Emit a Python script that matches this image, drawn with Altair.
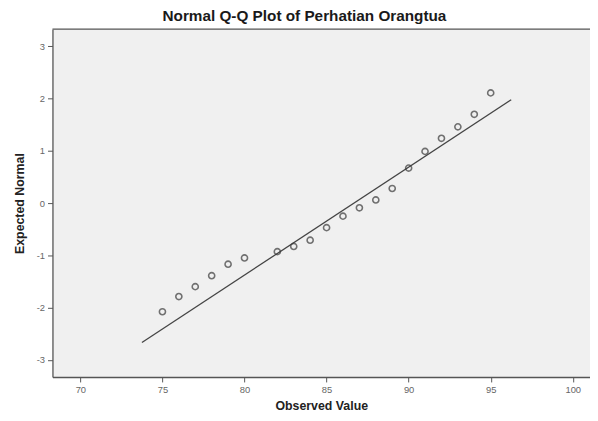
import altair as alt
import pandas as pd

observed = [75, 76, 77, 78, 79, 80, 82, 83, 84, 85, 86, 87, 88, 89, 90, 91, 92, 93, 94, 95]
expected = [-2.08, -1.79, -1.60, -1.39, -1.17, -1.05, -0.93, -0.83, -0.71, -0.47,
            -0.25, -0.09, 0.06, 0.28, 0.67, 0.99, 1.24, 1.46, 1.70, 2.11]

# Reference line endpoints
line_x = [73.75, 96.25]
line_y = [-2.67, 1.98]

x_ticks = [70, 75, 80, 85, 90, 95, 100]
y_ticks = [-3, -2, -1, 0, 1, 2, 3]

X_DOMAIN = [68.3, 101.05]
Y_DOMAIN = [-3.33, 3.33]

pts = pd.DataFrame({"obs": observed, "exp": expected})
ln = pd.DataFrame({"obs": line_x, "exp": line_y})

label_expr = "datum.value < 0 ? '-' + abs(datum.value) : '' + datum.value"

axis_common = dict(
    labelFont="Liberation Sans", labelFontSize=9.5, labelColor="#666666",
    titleFont="Liberation Sans", titleFontSize=12.5, titleFontWeight="bold", titleColor="#222222",
    domainColor="#555555", domainWidth=1.3, tickColor="#555555", tickSize=5, tickWidth=1,
    grid=False, labelExpr=label_expr,
)

x_enc = alt.X("obs:Q", scale=alt.Scale(domain=X_DOMAIN, nice=False, zero=False),
              axis=alt.Axis(title="Observed Value", values=x_ticks, titlePadding=5,
                            labelPadding=3, **axis_common))
y_enc = alt.Y("exp:Q", scale=alt.Scale(domain=Y_DOMAIN, nice=False, zero=False),
              axis=alt.Axis(title="Expected Normal", values=y_ticks, titlePadding=10,
                            labelPadding=3, **axis_common))

points = alt.Chart(pts).mark_point(
    shape="circle", filled=False, size=38, stroke="#3a3a3a", strokeWidth=1.6
).encode(x=x_enc, y=y_enc)

line = alt.Chart(ln).mark_line(color="#444444", strokeWidth=1.3).encode(
    x=alt.X("obs:Q"), y=alt.Y("exp:Q")
)

top = alt.Chart(pd.DataFrame({"exp": [Y_DOMAIN[1]]})).mark_rule(
    color="#555555", strokeWidth=1.3
).encode(y=alt.Y("exp:Q"))

chart = alt.layer(line, points, top).properties(
    width=544, height=352,
    title=alt.TitleParams("Normal Q-Q Plot of Perhatian Orangtua", font="Liberation Sans",
                          fontSize=15.5, fontWeight="bold", color="#1a1a1a",
                          anchor="middle", dx=-17, offset=4),
    padding={"left": 45, "top": 19, "right": 0, "bottom": 34},
    autosize=alt.AutoSizeParams(type="none"),
).configure_view(fill="#f0f0f0", stroke=None)

chart.save("out.html", embed_options={"renderer": "svg", "actions": False})
